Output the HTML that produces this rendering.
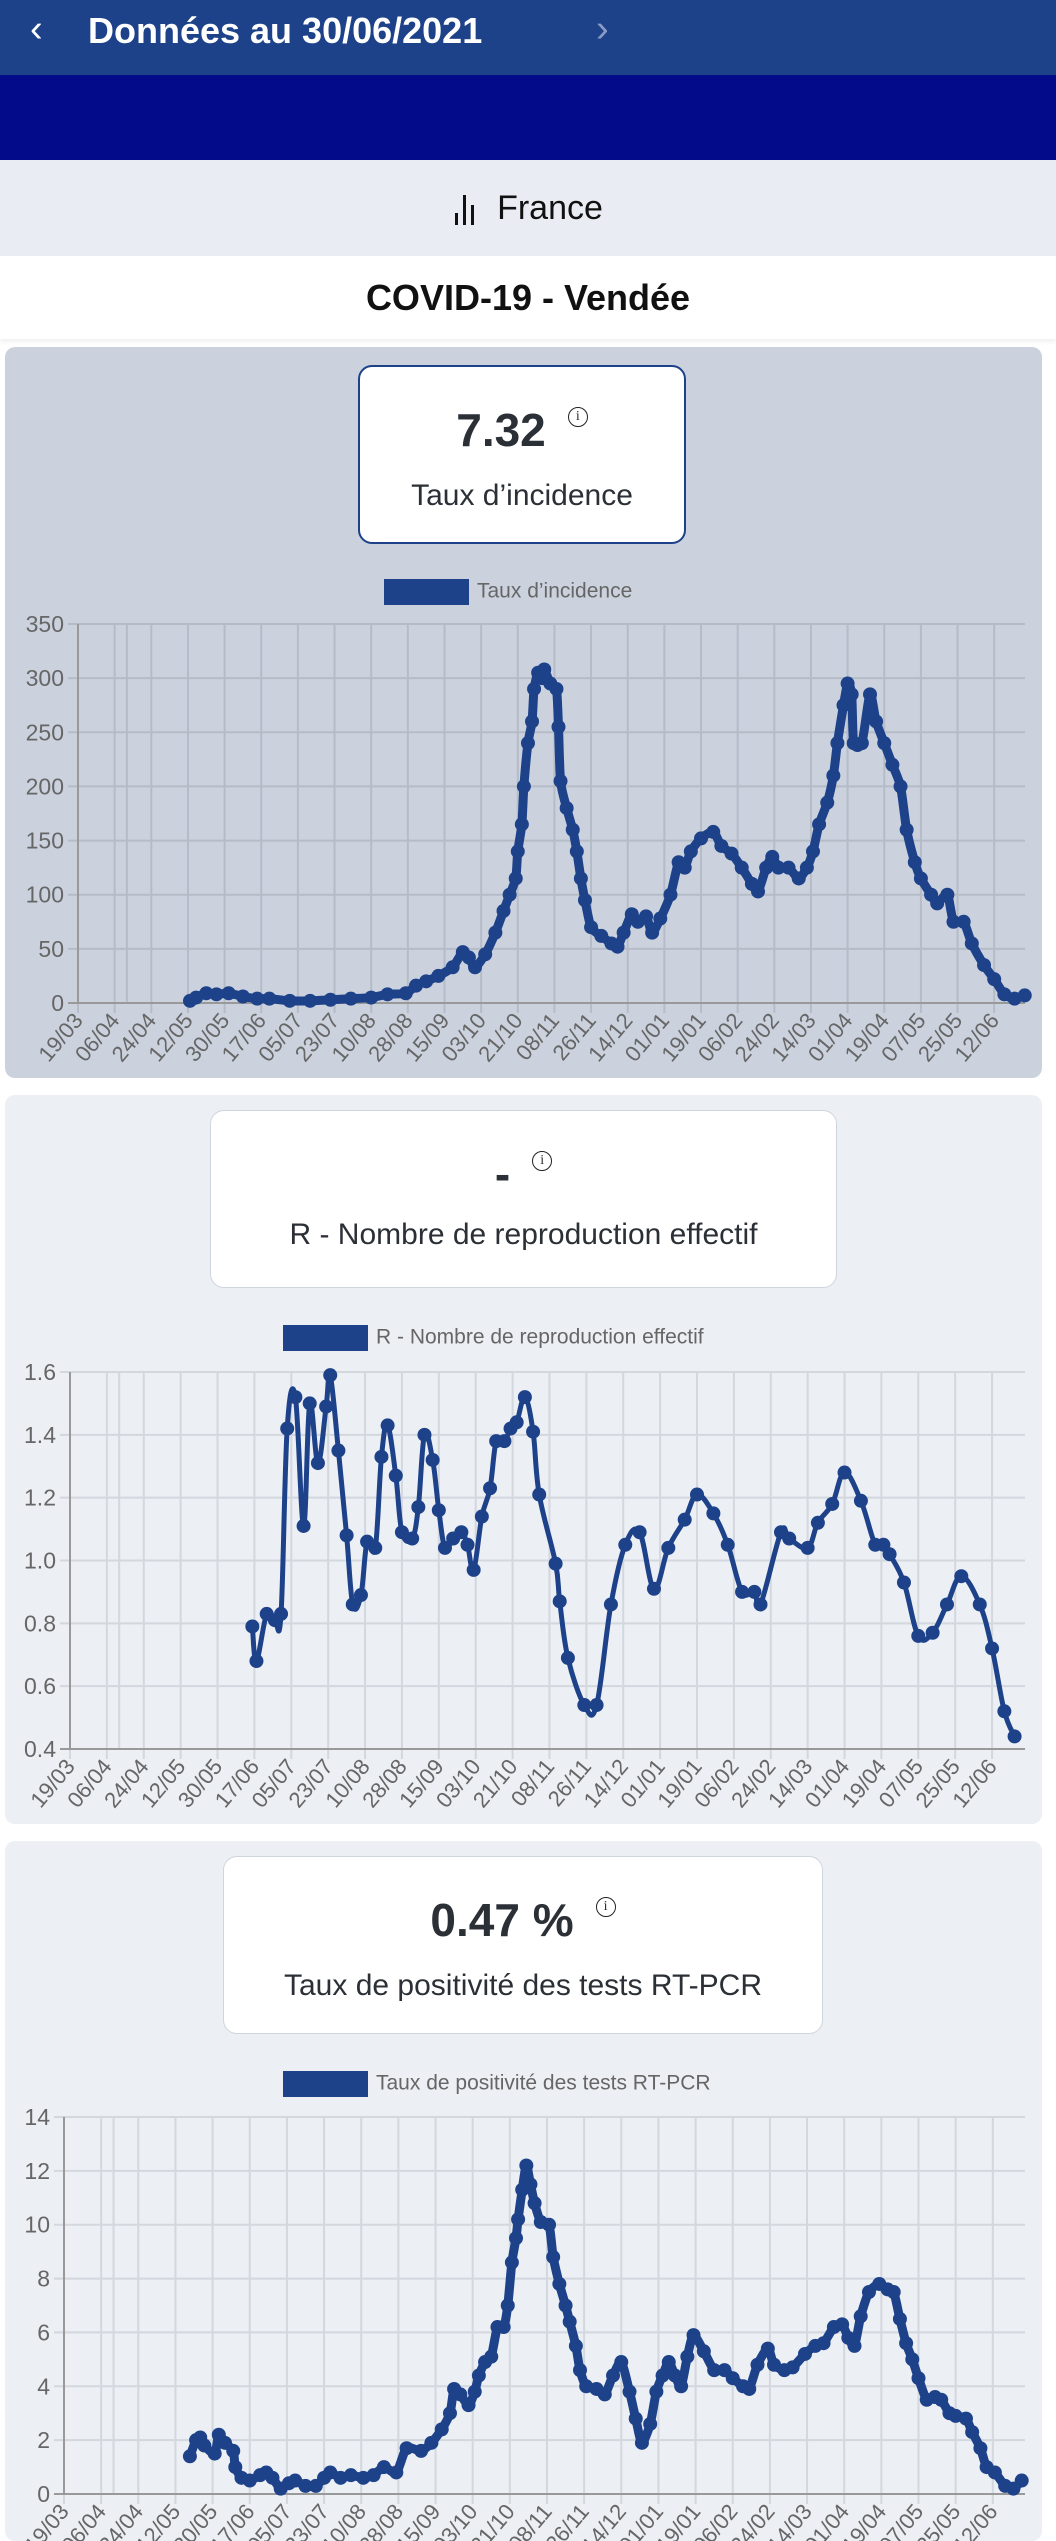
<!DOCTYPE html>
<html><head><meta charset="utf-8">
<style>
*{margin:0;padding:0;box-sizing:border-box}
body{width:1056px;height:2510px;overflow:hidden;background:#fff;font-family:"Liberation Sans",sans-serif;position:relative}
.abs{position:absolute}
.card{position:absolute;left:5px;width:1037px;border-radius:10px}
.info{position:absolute;background:#fff;border-radius:14px;text-align:center;color:#2b2f36}
.val{position:absolute;left:0;right:0;font-weight:bold;font-size:46px}
.ttl{position:absolute;left:0;right:0;font-size:30px}
.ic{display:inline-block;width:20px;height:20px;border:1.5px solid #222;border-radius:50%;font-size:14px;line-height:17px;font-weight:normal;vertical-align:top;margin-left:22px;margin-top:4px;font-family:"Liberation Serif",serif}
.leg{position:absolute;font-size:21px;color:#666}
.legbox{display:inline-block;width:85px;height:26px;background:#1d428a;vertical-align:middle;margin-right:8px}
svg{position:absolute;left:0;top:0}
</style></head><body>
<div class="abs" style="left:0;top:0;width:1056px;height:75px;background:#1e428a"></div>
<div class="abs" style="left:30px;top:8px;color:#fff;font-size:38px">&#8249;</div>
<div class="abs" style="left:88px;top:10px;color:#fff;font-size:36px;font-weight:bold">Données au 30/06/2021</div>
<div class="abs" style="left:596px;top:8px;color:#8a9cc6;font-size:38px">&#8250;</div>
<div class="abs" style="left:0;top:75px;width:1056px;height:85px;background:#040b8a"></div>
<div class="abs" style="left:0;top:160px;width:1056px;height:96px;background:#e9edf3;text-align:center;font-size:34px;line-height:96px;color:#111">
<span style="display:inline-block;width:30px;height:30px;position:relative;vertical-align:middle;margin-right:14px">
<i style="position:absolute;left:2px;bottom:0;width:3px;height:12px;background:#111"></i><i style="position:absolute;left:10px;bottom:0;width:3px;height:30px;background:#111"></i><i style="position:absolute;left:18px;bottom:0;width:3px;height:20px;background:#111"></i></span>France</div>
<div class="abs" style="left:0;top:256px;width:1056px;height:83px;text-align:center;font-size:36px;font-weight:bold;line-height:83px;color:#111;box-shadow:0 3px 4px rgba(0,0,0,0.06)">COVID-19 - Vendée</div>

<div class="card" style="top:347px;height:731px;background:#cbd2de">
 <div class="info" style="left:353px;top:18px;width:328px;height:179px;border:2px solid #1d428a">
  <div class="val" style="top:36px">7.32<span class="ic">i</span></div>
  <div class="ttl" style="top:112px">Taux d’incidence</div>
 </div>
 <div class="leg" style="left:379px;top:232px"><span class="legbox"></span>Taux d’incidence</div>
 <svg id="c1" width="1037" height="731"></svg>
</div>

<div class="card" style="top:1095px;height:729px;background:#eceff4">
 <div class="info" style="left:205px;top:15px;width:627px;height:178px;border:1.5px solid #cfd5de">
  <div class="val" style="top:36px">-<span class="ic">i</span></div>
  <div class="ttl" style="top:107px">R - Nombre de reproduction effectif</div>
 </div>
 <div class="leg" style="left:278px;top:230px"><span class="legbox"></span>R - Nombre de reproduction effectif</div>
 <svg id="c2" width="1037" height="729"></svg>
</div>

<div class="card" style="top:1841px;height:700px;background:#eceff4">
 <div class="info" style="left:218px;top:15px;width:600px;height:178px;border:1.5px solid #cfd5de">
  <div class="val" style="top:36px">0.47 %<span class="ic">i</span></div>
  <div class="ttl" style="top:112px">Taux de positivité des tests RT-PCR</div>
 </div>
 <div class="leg" style="left:278px;top:230px"><span class="legbox"></span>Taux de positivité des tests RT-PCR</div>
 <svg id="c3" width="1037" height="700"></svg>
</div>

<script>
const xTickLabels=["19/03","06/04","24/04","12/05","30/05","17/06","05/07","23/07","10/08","28/08","15/09","03/10","21/10","08/11","26/11","14/12","01/01","19/01","06/02","24/02","14/03","01/04","19/04","07/05","25/05","12/06"];
const incDays=[55,58,63,68,74,81,88,94,104,114,124,134,144,152,161,166,171,177,184,189,192,195,200,205,209,212,215,216,218,219,221,223,224,226,228,229,232,235,236,237,240,243,245,247,249,252,257,262,265,268,272,275,279,282,286,291,295,298,301,306,312,316,321,326,331,334,338,341,344,349,354,358,361,364,368,371,373,376,378,380,381,385,389,392,396,400,404,407,411,414,419,422,427,430,435,439,445,450,455,460,465];
const incVals=[2,5,9,8,9,6,4,4,2,2,3,4,5,8,9,16,20,25,33,47,42,33,45,65,85,100,115,140,165,200,240,260,290,305,300,308,295,290,255,205,180,160,140,115,95,70,62,55,52,65,82,75,80,65,78,100,130,125,140,152,158,145,138,125,110,103,125,135,125,125,115,125,140,165,185,210,240,275,295,285,240,240,285,260,240,220,200,160,130,115,100,92,100,75,75,55,35,22,8,4,7];
const incYTicks=[0,50,100,150,200,250,300,350];

const rDays=[89,91,96,100,103,106,110,114,117,121,125,127,131,135,138,142,145,149,152,155,159,162,167,170,173,177,180,183,187,191,194,197,201,205,208,212,215,218,222,226,229,237,239,243,251,257,264,271,278,285,292,300,306,314,321,328,334,337,347,351,360,365,372,378,386,393,397,400,407,414,421,428,435,444,450,456,461];
const rVals=[0.79,0.68,0.83,0.81,0.83,1.42,1.52,1.11,1.50,1.31,1.49,1.59,1.35,1.08,0.86,0.89,1.06,1.04,1.33,1.43,1.27,1.09,1.07,1.17,1.40,1.32,1.16,1.04,1.07,1.09,1.05,0.97,1.14,1.23,1.38,1.38,1.42,1.44,1.52,1.41,1.21,0.99,0.87,0.69,0.54,0.54,0.86,1.05,1.09,0.91,1.04,1.13,1.21,1.15,1.05,0.90,0.90,0.86,1.09,1.07,1.04,1.12,1.18,1.28,1.19,1.05,1.05,1.02,0.93,0.76,0.77,0.86,0.95,0.86,0.72,0.52,0.44];
const rYTicks=["0.4","0.6","0.8","1.0","1.2","1.4","1.6"];

const posDays=[61,64,66,68,73,75,78,82,83,86,90,95,98,101,105,109,112,117,122,126,129,134,139,145,150,155,161,166,173,178,183,187,189,192,196,199,201,204,207,210,213,215,217,219,220,222,224,226,228,231,235,237,240,243,245,248,250,253,258,262,266,270,274,277,280,284,287,290,293,296,299,302,305,310,315,320,324,329,332,336,341,344,349,353,359,364,368,373,377,380,383,386,390,395,399,402,405,408,411,414,418,422,425,429,432,437,440,444,447,451,456,460,464];
const posVals=[1.4,2.0,2.1,1.8,1.5,2.2,1.9,1.6,1.0,0.6,0.5,0.7,0.8,0.6,0.2,0.4,0.5,0.3,0.3,0.6,0.8,0.6,0.7,0.6,0.7,1.0,0.8,1.7,1.6,1.9,2.4,3.0,3.9,3.7,3.3,3.8,4.4,4.9,5.1,6.2,6.2,7.0,8.6,9.5,10.2,11.3,12.2,11.5,10.8,10.1,10.0,8.8,7.8,7.0,6.4,5.5,4.6,4.0,3.9,3.7,4.4,4.9,3.8,2.8,1.9,2.6,3.8,4.4,4.9,4.4,4.0,5.1,5.9,5.3,4.6,4.6,4.3,4.0,3.9,4.8,5.4,4.8,4.6,4.7,5.2,5.5,5.6,6.2,6.3,5.8,5.5,6.6,7.5,7.8,7.6,7.5,6.5,5.6,5.0,4.3,3.5,3.6,3.5,3.0,2.9,2.8,2.3,1.7,1.0,0.8,0.3,0.2,0.5];
const posYTicks=[0,2,4,6,8,10,12,14];

const NS="http://www.w3.org/2000/svg";
function mk(svg,tag,attrs){const e=document.createElementNS(NS,tag);for(const k in attrs)e.setAttribute(k,attrs[k]);svg.appendChild(e);return e;}

function draw(id,o){
 const svg=document.getElementById(id);
 const xs=d=>o.x0+d*o.pxDay;
 const ys=v=>o.yBot-(v-o.yMin)/(o.yMax-o.yMin)*(o.yBot-o.yTop);
 xTickLabels.forEach((lab,i)=>{
  const x=xs(i*18);
  const g=mk(svg,'line',{x1:x,x2:x,y1:o.yTop,y2:o.yBot+10,stroke:o.grid,'stroke-width':2});
  
  
  const t=mk(svg,'text',{x:x+6,y:o.yBot+18,'font-size':22,fill:'#666','text-anchor':'end',transform:`rotate(-50 ${x+6} ${o.yBot+18})`,'font-family':'Liberation Sans, sans-serif'});
  t.textContent=lab;
  
  
 });
 const ex=mk(svg,'line',{x1:xs(24),x2:xs(24),y1:o.yTop,y2:o.yBot,stroke:o.grid,'stroke-width':2});
 
 
 o.yTicks.forEach(v=>{
  const y=ys(parseFloat(v));
  const g=mk(svg,'line',{x1:o.x0-10,x2:1020,y1:y,y2:y,stroke:o.grid,'stroke-width':2});
  
  
  const t=mk(svg,'text',{x:o.x0-14,y:y+8,'font-size':23,fill:'#666','text-anchor':'end','font-family':'Liberation Sans, sans-serif'});
  t.textContent=v;
  
  
 });
 const ax=mk(svg,'line',{x1:o.x0,x2:o.x0,y1:o.yTop,y2:o.yBot,stroke:'#999','stroke-width':2});
 
 
 const bx=mk(svg,'line',{x1:o.x0-10,x2:1020,y1:o.yBot,y2:o.yBot,stroke:'#999','stroke-width':2});
 
 
 const pts=o.days.map((d,i)=>[xs(d),ys(o.vals[i])]);
 let dstr='M'+pts[0][0]+','+pts[0][1];
 for(let i=0;i<pts.length-1;i++){
  const p0=pts[Math.max(0,i-1)],p1=pts[i],p2=pts[i+1],p3=pts[Math.min(pts.length-1,i+2)];
  const t=o.tension;
  const c1=[p1[0]+(p2[0]-p0[0])*t,p1[1]+(p2[1]-p0[1])*t];
  const c2=[p2[0]-(p3[0]-p1[0])*t,p2[1]-(p3[1]-p1[1])*t];
  dstr+=`C${c1[0]},${c1[1]} ${c2[0]},${c2[1]} ${p2[0]},${p2[1]}`;
 }
 const ln=mk(svg,'path',{d:dstr,fill:'none',stroke:'#1d428a','stroke-width':o.lw,'stroke-linejoin':'round','stroke-linecap':'round'});
 
 
 pts.forEach(p=>{
  const c=mk(svg,'circle',{cx:p[0],cy:p[1],r:o.r,fill:'#1d428a'});
  
  
 });
}
draw('c1',{x0:73,pxDay:2.036,yTop:624-347,yBot:1003-347,yMin:0,yMax:350,yTicks:incYTicks,days:incDays,vals:incVals,grid:'#b5bcc8',lw:9,r:7,tension:0.12});
draw('c2',{x0:65,pxDay:2.049,yTop:1372-1095,yBot:1749-1095,yMin:0.4,yMax:1.6,yTicks:rYTicks,days:rDays,vals:rVals,grid:'#d3d7de',lw:5,r:7,tension:0.18});
draw('c3',{x0:59,pxDay:2.064,yTop:2117-1841,yBot:2494-1841,yMin:0,yMax:14,yTicks:posYTicks,days:posDays,vals:posVals,grid:'#d3d7de',lw:9,r:7,tension:0.12});
</script>
</body></html>
